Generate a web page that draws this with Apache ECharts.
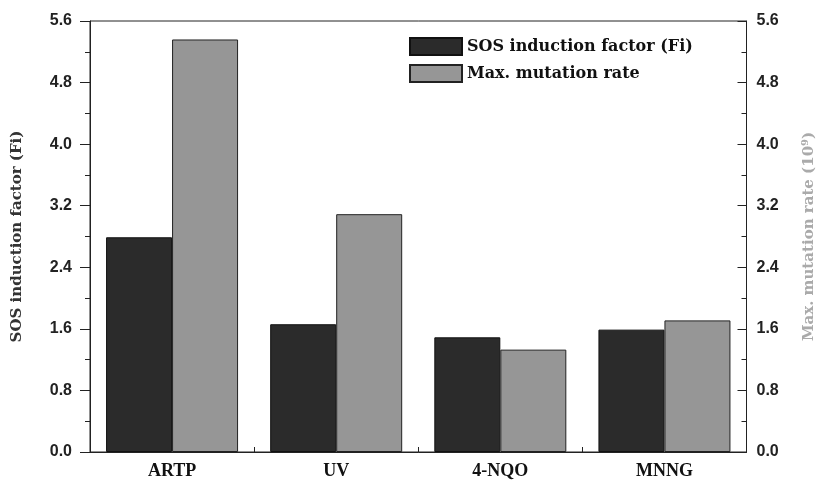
<!DOCTYPE html>
<html>
<head>
<meta charset="utf-8">
<script src="https://cdn.jsdelivr.net/npm/echarts@6/dist/echarts.min.js"></script>
<style>
html,body{margin:0;padding:0;background:#fff;}
#chart{width:825px;height:480px;}
</style>
</head>
<body>
<div id="chart"></div>
<script>
var categories = ['ARTP', 'UV', '4-NQO', 'MNNG'];
var sosFactor = [2.79, 1.66, 1.49, 1.59];
var mutationRate = [5.36, 3.09, 1.33, 1.71];
var yTicks = [0, 0.8, 1.6, 2.4, 3.2, 4.0, 4.8, 5.6];
var seriesNames = ['SOS induction factor (Fi)', 'Max. mutation rate'];

var chart = echarts.init(document.getElementById('chart'), null, {renderer: 'canvas'});

var tickLabelStyle = {
  fontFamily: '"Liberation Sans", Arial, sans-serif',
  fontWeight: 'bold',
  fontSize: 16,
  color: '#222',
  formatter: function (v) { return v.toFixed(1); }
};
var serifWide = '"DejaVu Serif", serif';
var serifTimes = '"Liberation Serif", "Times New Roman", serif';

chart.setOption({
  animation: false,
  backgroundColor: '#fff',
  grid: {
    left: 90, right: 78, top: 21, bottom: 28,
    show: true, borderColor: '#222', borderWidth: 1, backgroundColor: 'transparent'
  },
  legend: {
    orient: 'vertical',
    left: 404, top: 32,
    icon: 'rect',
    itemWidth: 52, itemHeight: 17, itemGap: 8,
    data: seriesNames,
    textStyle: {
      fontFamily: serifWide,
      fontWeight: 'bold', fontSize: 16, color: '#111'
    }
  },
  xAxis: {
    type: 'category',
    data: categories,
    axisLine: {lineStyle: {color: '#222', width: 1}},
    axisTick: {show: true, inside: true, length: 5, lineStyle: {color: '#222'}},
    axisLabel: {
      margin: 10,
      fontFamily: serifTimes,
      fontWeight: 'bold', fontSize: 18, color: '#111'
    }
  },
  yAxis: [
    {
      type: 'value', min: 0, max: 5.6, interval: 0.8,
      position: 'left',
      name: 'SOS induction factor (Fi)',
      nameLocation: 'middle', nameRotate: 90, nameGap: 65,
      nameTextStyle: {
        fontFamily: serifWide,
        fontWeight: 'bold', fontSize: 15, color: '#333',
        padding: [0, 0, 0, 0]
      },
      axisLine: {show: true, lineStyle: {color: '#222', width: 1}},
      axisTick: {show: true, inside: false, length: 10, lineStyle: {color: '#222'}},
      minorTick: {show: true, splitNumber: 2, length: 5, lineStyle: {color: '#222'}},
      splitLine: {show: false},
      axisLabel: Object.assign({margin: 18}, tickLabelStyle)
    },
    {
      type: 'value', min: 0, max: 5.6, interval: 0.8,
      position: 'right',
      name: '{a|Max. mutation rate (10}{s|9}{a|)}',
      nameLocation: 'middle', nameRotate: 90, nameGap: 54,
      nameTextStyle: {
        rich: {
          a: {fontFamily: serifWide, fontWeight: 'bold', fontSize: 15, color: '#aaa'},
          s: {fontFamily: serifWide, fontWeight: 'bold', fontSize: 10, color: '#aaa', padding: [0, 0, 8, 0]}
        }
      },
      axisLine: {show: true, lineStyle: {color: '#222', width: 1}},
      axisTick: {show: true, inside: true, length: 9, lineStyle: {color: '#222'}},
      minorTick: {show: true, splitNumber: 2, length: 5, lineStyle: {color: '#222'}},
      splitLine: {show: false},
      axisLabel: Object.assign({margin: 10}, tickLabelStyle)
    }
  ],
  series: [
    {
      name: seriesNames[0], type: 'bar', yAxisIndex: 0,
      data: sosFactor,
      barWidth: 66, barGap: '0%',
      itemStyle: {color: '#2b2b2b', borderColor: '#111', borderWidth: 1}
    },
    {
      name: seriesNames[1], type: 'bar', yAxisIndex: 1,
      data: mutationRate,
      barWidth: 66, barGap: '0%',
      itemStyle: {color: '#969696', borderColor: '#222', borderWidth: 1}
    }
  ]
});
</script>
</body>
</html>
